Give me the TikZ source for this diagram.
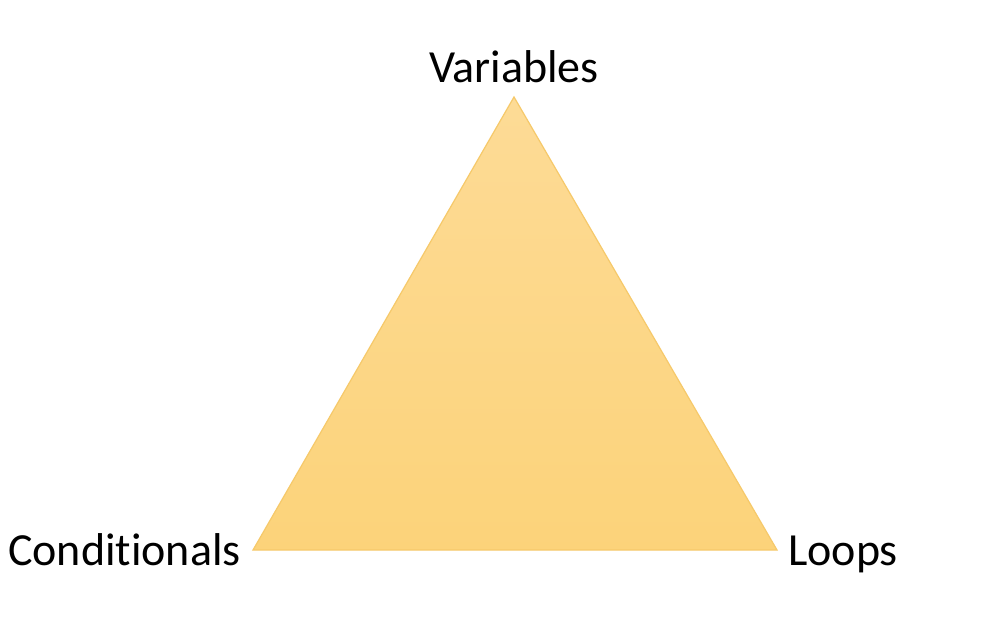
\documentclass[tikz,border=0pt]{standalone}
\usepackage{fontspec}
\setmainfont{Carlito}[Ligatures=NoCommon]
\definecolor{topc}{HTML}{FDDB96}
\definecolor{botc}{HTML}{FCD37A}
\definecolor{edgec}{HTML}{F6C96A}
\begin{document}
\begin{tikzpicture}[x=1pt,y=-1pt,
  lbl/.style={font=\fontsize{46}{50}\selectfont, text=black, inner sep=0pt}]
\useasboundingbox (0,0) rectangle (1002,619);
\fill[white] (0,0) rectangle (1002,619);
\coordinate (A) at (514,97);
\coordinate (B) at (253,550);
\coordinate (C) at (777,550);
\shade[top color=topc, bottom color=botc, draw=edgec, line width=1.2pt, line join=miter] (A) -- (C) -- (B) -- cycle;
\node[lbl, anchor=base] (v) at (514,82) {Variables};
\node[lbl, anchor=base west] (c) at (8,565) {Conditionals};
\node[lbl, anchor=base west] (l) at (788,565) {Loops};
\end{tikzpicture}
\end{document}
